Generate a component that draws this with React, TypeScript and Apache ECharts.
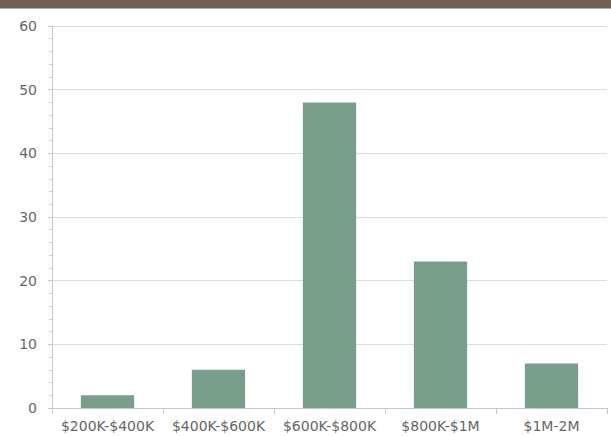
import React, { useEffect, useRef } from "react";
import * as echarts from "echarts";

const categories = ["$200K-$400K", "$400K-$600K", "$600K-$800K", "$800K-$1M", "$1M-2M"];
const values = [2, 6, 48, 23, 7];
const yMin = 0;
const yMax = 60;
const yInterval = 10;

export default function App() {
  const ref = useRef<HTMLDivElement>(null);
  useEffect(() => {
    if (!ref.current) return;
    const chart = echarts.init(ref.current, undefined, { renderer: "svg" });
    chart.setOption({
      animation: false,
      backgroundColor: "#ffffff",
      textStyle: { fontFamily: "DejaVu Sans" },
      graphic: [
        {
          type: "rect",
          left: 0,
          top: 0,
          shape: { width: 611, height: 8.5 },
          style: { fill: "#6f6255" },
        },
      ],
      grid: { left: 52, right: 4, top: 26, bottom: 28, containLabel: false },
      xAxis: {
        type: "category",
        data: categories,
        boundaryGap: true,
        axisLine: { show: true, lineStyle: { color: "#c8c8c8", width: 1 } },
        axisTick: { show: true, alignWithLabel: false, length: 6, lineStyle: { color: "#c8c8c8" } },
        axisLabel: { color: "#666666", fontSize: 14, margin: 11, fontFamily: "DejaVu Sans", interval: 0 },
        splitLine: { show: false },
      },
      yAxis: {
        type: "value",
        min: yMin,
        max: yMax,
        interval: yInterval,
        axisLine: { show: true, lineStyle: { color: "#c8c8c8", width: 1 } },
        axisTick: { show: true, length: 4, lineStyle: { color: "#c8c8c8" } },
        minorTick: { show: true, splitNumber: 5, length: 3, lineStyle: { color: "#d0d0d0" } },
        axisLabel: { color: "#666666", fontSize: 14, margin: 15, fontFamily: "DejaVu Sans" },
        splitLine: { show: true, lineStyle: { color: "#dddddd", width: 1 } },
      },
      series: [
        {
          type: "bar",
          data: values,
          barWidth: "48%",
          itemStyle: { color: "#7a9e8c" },
        },
      ],
    });
    return () => chart.dispose();
  }, []);
  return (
    <div
      ref={ref}
      style={{ position: "fixed", left: 0, top: 0, width: 611, height: 436 }}
    />
  );
}
